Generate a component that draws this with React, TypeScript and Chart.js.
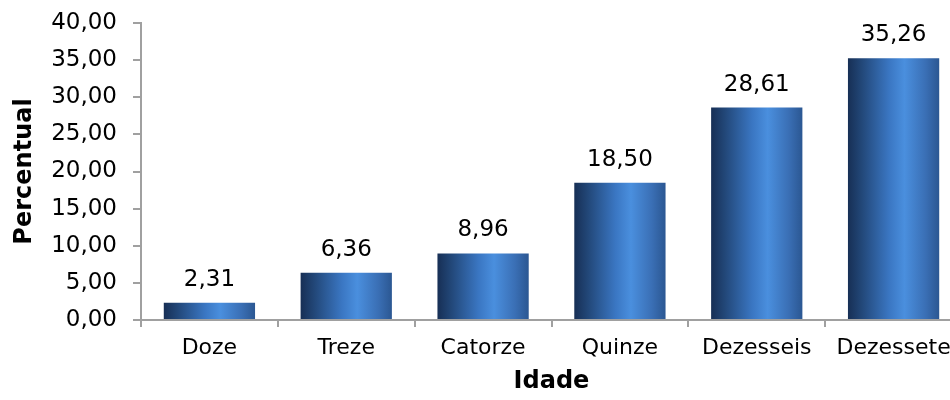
import React, { useEffect, useRef } from "react";
import { Chart, registerables } from "chart.js";

Chart.register(...registerables);

const categories = ["Doze", "Treze", "Catorze", "Quinze", "Dezesseis", "Dezessete"];
const values = [2.31, 6.36, 8.96, 18.5, 28.61, 35.26];
const yMin = 0;
const yMax = 40;
const yStep = 5;
const xTitle = "Idade";
const yTitle = "Percentual";

const FONT = "'DejaVu Sans', Verdana, sans-serif";
const BAR_PCT = 0.667;

const fmt = (v: number) => v.toFixed(2).replace(".", ",");

const dataLabels = {
  id: "dataLabels",
  afterDatasetsDraw(chart: any) {
    const ctx = chart.ctx;
    const meta = chart.getDatasetMeta(0);
    ctx.save();
    ctx.font = `23px ${FONT}`;
    ctx.fillStyle = "#000";
    ctx.textAlign = "center";
    ctx.textBaseline = "alphabetic";
    meta.data.forEach((bar: any, i: number) => {
      ctx.fillText(fmt(values[i]), bar.x, bar.y - 17);
    });
    ctx.restore();
  },
};

export default function App() {
  const ref = useRef<HTMLCanvasElement>(null);
  useEffect(() => {
    if (!ref.current) return;
    const chart = new Chart(ref.current, {
      type: "bar",
      data: {
        labels: categories,
        datasets: [
          {
            data: values,
            backgroundColor: (c: any) => {
              const ch = c.chart;
              const xs = ch.scales && ch.scales.x;
              if (!ch.chartArea || !xs || c.dataIndex === undefined) return "#2f64a8";
              const cx = xs.getPixelForValue(c.dataIndex);
              const w = (xs.width / categories.length) * BAR_PCT;
              const g = ch.ctx.createLinearGradient(cx - w / 2, 0, cx + w / 2, 0);
              g.addColorStop(0, "#172f55");
              g.addColorStop(0.15, "#224778");
              g.addColorStop(0.45, "#3a76c2");
              g.addColorStop(0.62, "#4a8fde");
              g.addColorStop(0.85, "#3a6fb5");
              g.addColorStop(1, "#2b5792");
              return g;
            },
            borderWidth: 0,
            barPercentage: BAR_PCT,
            categoryPercentage: 1,
          },
        ],
      },
      options: {
        responsive: false,
        animation: false,
        devicePixelRatio: 1,
        layout: { padding: { top: 23, right: 0, left: 0, bottom: 0 } },
        plugins: {
          legend: { display: false },
          tooltip: { enabled: false },
        },
        scales: {
          x: {
            afterFit: (s: any) => {
              s.height = 80;
              s.paddingLeft = 0;
              s.paddingRight = 0;
            },
            border: { color: "#a0a0a0", width: 2 },
            grid: {
              display: true,
              drawOnChartArea: false,
              drawTicks: true,
              tickLength: 7,
              color: "#a0a0a0",
              lineWidth: 2,
              offset: true,
            },
            ticks: {
              color: "#000",
              font: { family: FONT, size: 22 },
              padding: 8,
              maxRotation: 0,
              autoSkip: false,
            },
            title: {
              display: true,
              text: xTitle,
              color: "#000",
              font: { family: FONT, size: 24, weight: "bold" },
              padding: { top: 0, bottom: 4 },
            },
          },
          y: {
            min: yMin,
            max: yMax,
            afterFit: (s: any) => {
              s.width = 141;
              s.paddingTop = 0;
              s.paddingBottom = 0;
            },
            border: { color: "#a0a0a0", width: 2 },
            grid: {
              display: true,
              drawOnChartArea: false,
              drawTicks: true,
              tickLength: 8,
              color: "#a0a0a0",
              lineWidth: 2,
            },
            ticks: {
              stepSize: yStep,
              color: "#000",
              font: { family: FONT, size: 23 },
              padding: 16,
              callback: (v: any) => fmt(Number(v)),
            },
            title: {
              display: true,
              text: yTitle,
              color: "#000",
              font: { family: FONT, size: 24, weight: "bold" },
              padding: { top: 10, bottom: 0 },
            },
          },
        },
      },
      plugins: [dataLabels],
    });
    return () => chart.destroy();
  }, []);
  return (
    <div
      style={{
        position: "fixed",
        left: 0,
        top: 0,
        width: 950,
        height: 400,
        overflow: "hidden",
        background: "#fff",
      }}
    >
      <canvas
        ref={ref}
        width={962}
        height={400}
        style={{ width: "962px", height: "400px", display: "block" }}
      />
    </div>
  );
}
